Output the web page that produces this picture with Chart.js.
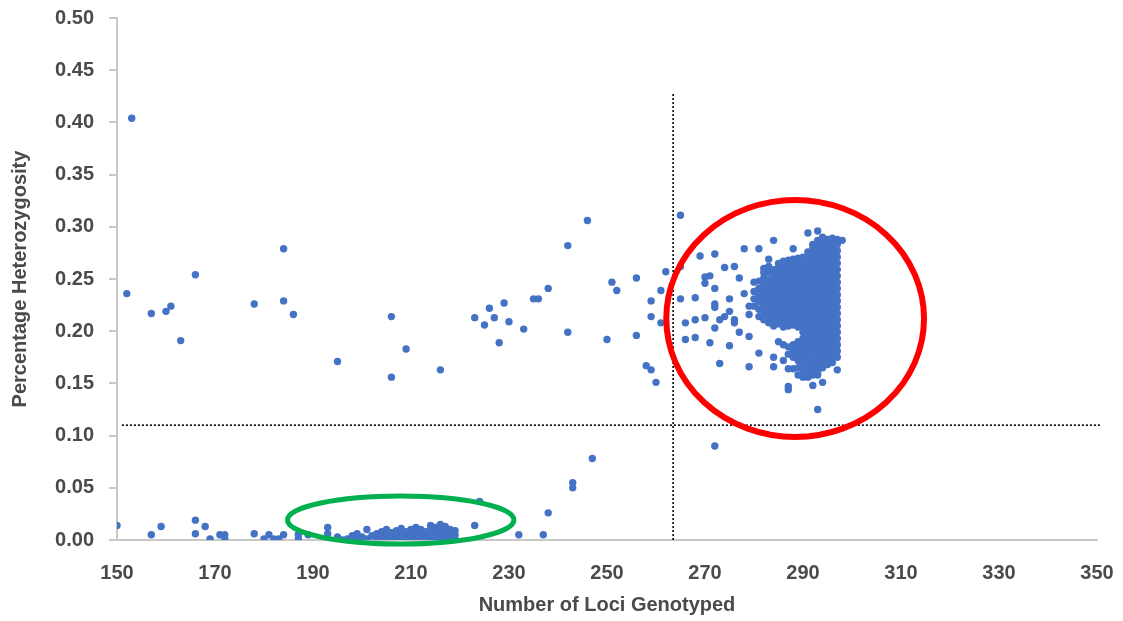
<!DOCTYPE html>
<html><head><meta charset="utf-8">
<script src="https://cdn.jsdelivr.net/npm/chart.js@4.4.0/dist/chart.umd.min.js"></script>
<style>html,body{margin:0;padding:0;background:#fff;}#wrap{width:1123px;height:621px;}</style>
</head><body><div id="wrap"><canvas id="c" width="1123" height="621"></canvas></div>
<script>
// ---- data ----
const xTickValues = [150,170,190,210,230,250,270,290,310,330,350];
const yTickValues = [0,0.05,0.10,0.15,0.20,0.25,0.30,0.35,0.40,0.45,0.50];
const yTickLabels = ['0.00','0.05','0.10','0.15','0.20','0.25','0.30','0.35','0.40','0.45','0.50'];

// near-zero samples
const lowLoci = [150,157,159,166,166,168,169,171,172,172,178,180,181,182,183,184,187,187,189,193,193,193,195,196,223,224,232,237,238,243,243,247,272];
const lowHet  = [0.014,0.005,0.013,0.019,0.006,0.013,0.001,0.005,0.005,0.001,0.006,0.001,0.005,0.001,0.001,0.005,0.001,0.005,0.005,0.012,0.006,0.000,0.003,0.000,0.014,0.037,0.005,0.005,0.026,0.055,0.050,0.078,0.090];

// dense band inside the green ellipse
const bandLoci = [197,198,199,199,200,201,201,202,203,203,204,204,205,205,205,206,206,207,207,207,208,208,208,209,209,209,210,210,210,211,211,211,211,212,212,212,213,213,213,214,214,214,214,215,215,215,215,216,216,216,216,217,217,217,217,218,218,218,219,219,219];
const bandHet  = [0.001,0.004,0.001,0.006,0.003,0.001,0.010,0.004,0.001,0.006,0.003,0.008,0.001,0.005,0.010,0.002,0.007,0.000,0.004,0.009,0.002,0.006,0.011,0.000,0.004,0.008,0.002,0.006,0.010,0.000,0.004,0.008,0.012,0.002,0.006,0.010,0.000,0.004,0.008,0.002,0.006,0.010,0.014,0.000,0.004,0.008,0.012,0.002,0.006,0.010,0.015,0.000,0.004,0.008,0.013,0.002,0.006,0.010,0.001,0.005,0.009];

// scattered samples above the 0.11 line
const midLoci = [153,152,157,160,161,163,166,178,184,184,186,195,206,206,209,216,223,225,226,227,228,229,230,233,235,236,238,242,242,246,250,251,252,256,256,258,259,260,259,259,261,261,262,265,265,265,268,268,266,266,268,269,270,271,270,270,271,272,272,272,272,272,273,273,274,274,276,275,275,275,276,276,277,277,278,278,279,279,279,279,280,281,281,282,282,283,284,284,284,286,287,288,287,287,288,290,293,292,294,297,293,291,293,298];
const midHet  = [0.404,0.236,0.217,0.219,0.224,0.191,0.254,0.226,0.279,0.229,0.216,0.171,0.214,0.156,0.183,0.163,0.213,0.206,0.222,0.213,0.189,0.227,0.209,0.202,0.231,0.231,0.241,0.282,0.199,0.306,0.192,0.247,0.239,0.251,0.196,0.167,0.163,0.151,0.229,0.214,0.239,0.208,0.257,0.311,0.262,0.231,0.232,0.211,0.208,0.192,0.194,0.272,0.252,0.253,0.246,0.213,0.189,0.274,0.241,0.226,0.223,0.203,0.169,0.211,0.214,0.261,0.262,0.219,0.231,0.186,0.211,0.208,0.251,0.199,0.279,0.236,0.224,0.216,0.195,0.166,0.247,0.279,0.179,0.260,0.256,0.269,0.287,0.175,0.166,0.172,0.164,0.164,0.147,0.144,0.279,0.156,0.158,0.148,0.151,0.163,0.125,0.294,0.296,0.287];

// dense cluster inside the red circle (one list per loci count)
const clusterLoci = [280,281,282,283,284,285,286,287,288,289,290,291,292,293,294,295,296,297];
const clusterHet = [
 [0.224,0.231,0.238],
 [0.214,0.221,0.228,0.234,0.241,0.248],
 [0.211,0.216,0.221,0.226,0.231,0.236,0.241,0.246,0.251],
 [0.208,0.213,0.217,0.222,0.226,0.231,0.235,0.240,0.244,0.249,0.256,0.262],
 [0.205,0.210,0.215,0.219,0.224,0.228,0.233,0.237,0.242,0.246,0.251,0.255,0.259],
 [0.190,0.207,0.211,0.216,0.220,0.225,0.229,0.234,0.238,0.243,0.247,0.252,0.256,0.261,0.265],
 [0.187,0.204,0.209,0.213,0.218,0.222,0.227,0.231,0.236,0.240,0.245,0.249,0.254,0.258,0.263,0.267],
 [0.178,0.185,0.205,0.210,0.214,0.219,0.223,0.228,0.232,0.237,0.241,0.246,0.250,0.255,0.259,0.264,0.268],
 [0.175,0.181,0.187,0.206,0.211,0.215,0.220,0.224,0.229,0.233,0.238,0.242,0.247,0.251,0.256,0.260,0.265,0.269],
 [0.158,0.165,0.172,0.178,0.184,0.190,0.204,0.208,0.213,0.217,0.222,0.226,0.231,0.235,0.240,0.244,0.249,0.253,0.258,0.262,0.267,0.270],
 [0.157,0.163,0.169,0.175,0.181,0.187,0.193,0.199,0.205,0.210,0.215,0.220,0.225,0.230,0.235,0.240,0.245,0.250,0.255,0.260,0.265,0.271],
 [0.156,0.162,0.168,0.174,0.180,0.186,0.192,0.198,0.204,0.210,0.216,0.222,0.228,0.234,0.240,0.246,0.252,0.258,0.264,0.270,0.276],
 [0.158,0.164,0.170,0.177,0.183,0.189,0.195,0.201,0.207,0.213,0.219,0.225,0.231,0.237,0.243,0.249,0.255,0.261,0.267,0.273,0.279,0.283],
 [0.161,0.167,0.173,0.179,0.185,0.191,0.197,0.203,0.209,0.215,0.221,0.227,0.233,0.239,0.245,0.251,0.257,0.263,0.269,0.275,0.281,0.287],
 [0.165,0.171,0.177,0.183,0.189,0.195,0.201,0.207,0.213,0.219,0.225,0.231,0.237,0.243,0.249,0.255,0.261,0.267,0.273,0.279,0.285,0.290],
 [0.168,0.174,0.180,0.186,0.192,0.198,0.204,0.210,0.216,0.222,0.228,0.234,0.240,0.246,0.252,0.258,0.264,0.270,0.276,0.282,0.288],
 [0.170,0.176,0.182,0.188,0.194,0.200,0.206,0.212,0.218,0.224,0.230,0.236,0.242,0.248,0.254,0.260,0.266,0.272,0.278,0.284,0.289],
 [0.175,0.181,0.187,0.193,0.199,0.205,0.211,0.217,0.223,0.229,0.235,0.241,0.247,0.253,0.259,0.265,0.271,0.277,0.283,0.288]
];

// threshold lines
const hLineLoci = [151, 350.8];
const hLineHet = [0.11, 0.11];
const vLineLoci = [263.5, 263.5];
const vLineHet = [0, 0.428];

// highlight ellipses (data units)
const ellipseCx = [288.4, 207.9];
const ellipseCy = [0.2122, 0.0192];
const ellipseRx = [26.3, 23.1];
const ellipseRy = [0.1135, 0.023];
const ellipseColor = ['#FF0000', '#00B050'];
const ellipseWidth = [6, 5];

// ---- build ----
const pts = [];
lowLoci.forEach((x,i)=>pts.push({x, y: lowHet[i]}));
bandLoci.forEach((x,i)=>pts.push({x, y: bandHet[i]}));
midLoci.forEach((x,i)=>pts.push({x, y: midHet[i]}));
clusterLoci.forEach((x,i)=>clusterHet[i].forEach(y=>pts.push({x, y})));

const ellipsePlugin = {
  id: 'ellipses',
  afterDatasetsDraw(chart) {
    const {ctx, scales: {x, y}} = chart;
    ctx.save();
    for (let i = 0; i < ellipseCx.length; i++) {
      const cx = x.getPixelForValue(ellipseCx[i]);
      const cy = y.getPixelForValue(ellipseCy[i]);
      const rx = x.getPixelForValue(ellipseCx[i] + ellipseRx[i]) - cx;
      const ry = cy - y.getPixelForValue(ellipseCy[i] + ellipseRy[i]);
      ctx.beginPath();
      ctx.ellipse(cx, cy, rx, ry, 0, 0, Math.PI * 2);
      ctx.strokeStyle = ellipseColor[i];
      ctx.lineWidth = ellipseWidth[i];
      ctx.stroke();
    }
    ctx.restore();
  }
};

const font = {family: "'Liberation Sans', Arial, sans-serif", size: 20, weight: 'bold'};
const textColor = '#4a4a4a';

new Chart(document.getElementById('c'), {
  type: 'scatter',
  data: {
    datasets: [
      {
        data: hLineLoci.map((x,i)=>({x, y: hLineHet[i]})),
        type: 'line', showLine: true, borderColor: '#000', borderWidth: 1.6,
        borderDash: [2, 2], pointRadius: 0, clip: false, order: 2
      },
      {
        data: vLineLoci.map((x,i)=>({x, y: vLineHet[i]})),
        type: 'line', showLine: true, borderColor: '#000', borderWidth: 1.6,
        borderDash: [2, 2], pointRadius: 0, clip: false, order: 2
      },
      {
        data: pts, backgroundColor: '#4472C4', borderWidth: 0,
        pointRadius: 3.7, pointHoverRadius: 3.7, order: 1
      }
    ]
  },
  options: {
    responsive: false,
    animation: false,
    devicePixelRatio: 1,
    layout: {padding: {left: 0, top: 18, right: 26, bottom: 0}},
    plugins: {legend: {display: false}, tooltip: {enabled: false}},
    scales: {
      x: {
        type: 'linear', min: 150, max: 350,
        afterBuildTicks: s => { s.ticks = xTickValues.map(v => ({value: v})); },
        afterFit: s => { s.height = 81; s.paddingLeft = 0; s.paddingRight = 0; },
        ticks: {font, color: textColor, padding: 21, callback: v => String(v)},
        grid: {display: true, drawOnChartArea: false, drawTicks: false},
        border: {display: true, color: '#c8c8c8', width: 2},
        title: {display: true, text: 'Number of Loci Genotyped', font, color: textColor, padding: {top: 0, bottom: 4}}
      },
      y: {
        type: 'linear', min: 0, max: 0.5,
        afterBuildTicks: s => { s.ticks = yTickValues.map(v => ({value: v})); },
        afterFit: s => { s.width = 117; s.paddingTop = 0; s.paddingBottom = 0; },
        ticks: {font, color: textColor, padding: 15,
          callback: (v) => yTickLabels[yTickValues.findIndex(t => Math.abs(t - v) < 1e-9)]},
        grid: {display: true, drawOnChartArea: false, drawTicks: true, tickLength: 8, color: '#c8c8c8', lineWidth: 2},
        border: {display: true, color: '#c8c8c8', width: 2},
        title: {display: true, text: 'Percentage Heterozygosity', font, color: textColor, padding: {top: 8, bottom: 0}}
      }
    }
  },
  plugins: [ellipsePlugin]
});
</script></body></html>
